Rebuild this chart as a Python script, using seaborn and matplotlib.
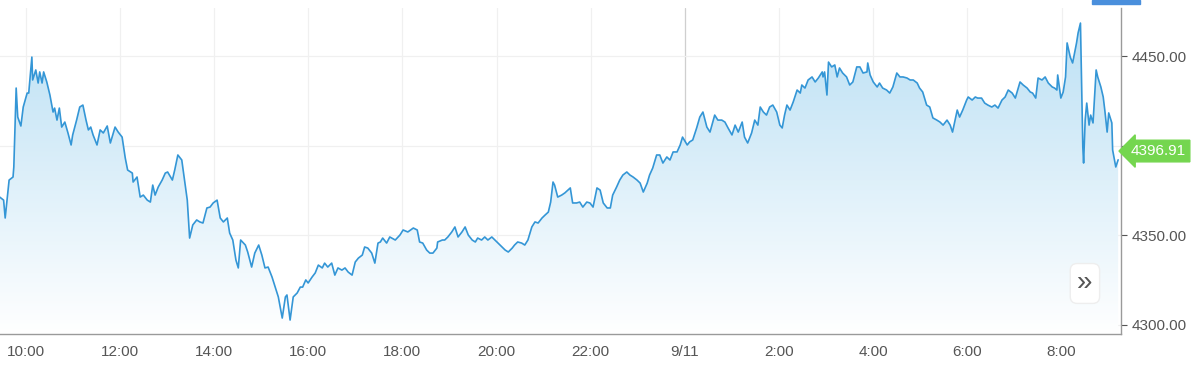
import numpy as np
import pandas as pd
import seaborn as sns
import matplotlib.pyplot as plt
import matplotlib.dates as mdates
from matplotlib.colors import LinearSegmentedColormap
from matplotlib.patches import Rectangle

# minutes after 9/10 00:00 and price
minutes = [
    567, 572, 574, 576, 579, 584, 585, 588, 590, 594, 597, 602, 604, 608, 609, 613, 616, 618, 621, 623,
    627, 631, 635, 637, 640, 643, 646, 650, 654, 658, 660, 665, 669, 673, 677, 680, 683, 686, 691, 695,
    699, 704, 708, 714, 718, 723, 727, 730, 736, 737, 742, 746, 750, 755, 759, 762, 765, 769, 774, 778,
    781, 787, 790, 794, 799, 803, 806, 809, 813, 818, 822, 826, 831, 835, 839, 844, 848, 852, 857, 860,
    864, 868, 871, 874, 880, 883, 888, 892, 897, 901, 905, 909, 914, 918, 922, 927, 931, 933, 937, 941,
    946, 950, 953, 957, 960, 965, 969, 973, 978, 981, 985, 990, 994, 998, 1003, 1007, 1011, 1016, 1020, 1024,
    1029, 1032, 1036, 1041, 1045, 1049, 1052, 1055, 1060, 1064, 1071, 1077, 1081, 1087, 1094, 1099, 1102, 1106, 1111, 1115,
    1119, 1124, 1125, 1131, 1134, 1138, 1143, 1147, 1151, 1156, 1160, 1164, 1169, 1173, 1176, 1181, 1185, 1189, 1194, 1198,
    1202, 1207, 1211, 1215, 1220, 1223, 1227, 1232, 1236, 1240, 1245, 1249, 1253, 1258, 1262, 1266, 1269, 1272, 1274, 1278,
    1283, 1287, 1291, 1294, 1297, 1302, 1306, 1310, 1315, 1319, 1323, 1328, 1332, 1336, 1341, 1345, 1348, 1353, 1357, 1361,
    1366, 1370, 1374, 1379, 1383, 1387, 1392, 1395, 1399, 1404, 1408, 1412, 1417, 1421, 1425, 1430, 1434, 1437, 1443, 1446,
    1450, 1455, 1459, 1463, 1468, 1472, 1478, 1482, 1487, 1491, 1495, 1500, 1504, 1508, 1513, 1516, 1520, 1525, 1529, 1533,
    1536, 1540, 1544, 1548, 1552, 1557, 1561, 1564, 1567, 1570, 1574, 1578, 1583, 1587, 1589, 1593, 1597, 1602, 1606, 1610,
    1615, 1616, 1618, 1621, 1623, 1627, 1631, 1634, 1637, 1641, 1646, 1650, 1654, 1659, 1663, 1667, 1672, 1673, 1676, 1680,
    1685, 1688, 1692, 1697, 1701, 1705, 1710, 1714, 1718, 1723, 1727, 1731, 1736, 1739, 1743, 1748, 1752, 1756, 1761, 1765,
    1769, 1774, 1778, 1781, 1787, 1790, 1794, 1799, 1801, 1806, 1810, 1813, 1818, 1822, 1826, 1831, 1835, 1839, 1844, 1848,
    1852, 1857, 1861, 1867, 1871, 1876, 1880, 1883, 1887, 1890, 1895, 1899, 1903, 1908, 1911, 1914, 1915, 1919, 1922, 1925,
    1927, 1931, 1934, 1939, 1941, 1944, 1946, 1947, 1948, 1950, 1952, 1955, 1957, 1960, 1964, 1966, 1970, 1973, 1975, 1978,
    1980, 1984, 1985, 1989, 1992,
]
prices = [
    4371.2, 4369.5, 4359.5, 4367.9, 4380.7, 4382.4, 4388.0, 4432.1, 4415.9, 4410.9, 4421.5, 4429.3, 4429.3, 4449.4, 4436.6, 4442.2, 4434.9, 4441.1, 4434.9, 4441.1,
    4435.5, 4428.2, 4418.7, 4420.9, 4414.2, 4420.9, 4410.3, 4413.1, 4407.0, 4400.3, 4405.9, 4414.2, 4421.5, 4422.6, 4414.2, 4408.7, 4410.3, 4405.9, 4400.3, 4408.7,
    4407.0, 4410.9, 4401.4, 4410.3, 4407.5, 4404.7, 4393.0, 4386.3, 4384.6, 4379.6, 4382.4, 4371.2, 4372.3, 4369.5, 4368.4, 4377.9, 4372.3, 4376.8, 4380.7, 4384.6,
    4385.2, 4380.7, 4386.3, 4394.7, 4391.9, 4379.0, 4369.5, 4348.3, 4355.6, 4358.4, 4357.3, 4356.7, 4365.1, 4365.6, 4367.9, 4369.5, 4359.5, 4357.3, 4359.5, 4351.1,
    4347.2, 4336.0, 4331.6, 4347.2, 4344.4, 4340.5, 4332.1, 4339.9, 4344.4, 4338.8, 4331.6, 4332.1, 4326.5, 4320.9, 4315.4, 4303.6, 4315.4, 4316.5, 4302.5, 4315.4,
    4317.6, 4320.9, 4320.9, 4324.9, 4323.2, 4326.5, 4328.8, 4333.2, 4331.6, 4334.3, 4332.1, 4334.3, 4327.6, 4331.6, 4330.4, 4331.6, 4329.3, 4327.6, 4334.9, 4337.1,
    4338.8, 4343.3, 4342.7, 4339.9, 4334.3, 4345.5, 4346.1, 4348.3, 4345.5, 4348.9, 4347.2, 4350.0, 4352.8, 4351.7, 4353.9, 4352.8, 4346.1, 4345.5, 4341.6, 4339.9,
    4339.9, 4342.7, 4346.1, 4347.2, 4347.2, 4348.9, 4351.7, 4354.5, 4348.9, 4351.7, 4354.5, 4350.0, 4347.2, 4346.1, 4348.3, 4347.2, 4348.9, 4347.2, 4348.9, 4347.2,
    4345.5, 4343.3, 4341.6, 4340.5, 4342.7, 4344.4, 4346.1, 4345.5, 4344.4, 4347.2, 4354.5, 4357.3, 4356.7, 4359.5, 4361.2, 4362.8, 4368.4, 4379.6, 4377.9, 4371.2,
    4372.3, 4373.5, 4375.1, 4376.3, 4367.9, 4367.9, 4368.4, 4365.6, 4368.4, 4367.9, 4365.6, 4376.3, 4375.1, 4367.9, 4365.1, 4365.1, 4372.3, 4376.8, 4380.7, 4383.5,
    4385.2, 4383.5, 4382.4, 4380.7, 4379.0, 4374.0, 4379.0, 4383.5, 4387.4, 4394.7, 4394.7, 4390.2, 4393.6, 4391.9, 4396.4, 4396.4, 4400.3, 4404.7, 4400.3, 4402.0,
    4403.1, 4409.8, 4415.9, 4418.7, 4410.3, 4407.5, 4417.0, 4414.2, 4414.2, 4413.1, 4409.8, 4405.9, 4411.4, 4407.5, 4413.1, 4404.7, 4401.4, 4407.0, 4414.2, 4411.4,
    4421.5, 4418.7, 4417.0, 4421.5, 4422.6, 4418.7, 4411.4, 4409.8, 4417.0, 4422.6, 4419.8, 4424.3, 4431.0, 4429.3, 4433.8, 4432.1, 4436.6, 4438.3, 4435.5, 4437.7,
    4441.1, 4438.3, 4441.1, 4428.2, 4446.6, 4443.9, 4445.0, 4438.3, 4443.3, 4440.5, 4438.3, 4433.8, 4435.5, 4443.9, 4443.9, 4440.5, 4441.1, 4446.1, 4439.4, 4435.5,
    4432.7, 4434.9, 4432.1, 4431.0, 4429.3, 4432.7, 4440.5, 4438.3, 4438.3, 4437.7, 4436.6, 4436.6, 4434.9, 4432.1, 4429.9, 4422.6, 4421.5, 4415.4, 4414.2, 4413.1,
    4411.4, 4414.2, 4411.4, 4407.5, 4419.8, 4415.9, 4419.8, 4425.4, 4427.1, 4425.4, 4427.1, 4426.5, 4426.5, 4423.7, 4422.6, 4421.5, 4422.6, 4420.9, 4425.4, 4427.1,
    4431.0, 4429.3, 4426.5, 4435.5, 4433.8, 4432.1, 4429.9, 4429.3, 4426.5, 4437.7, 4436.6, 4438.3, 4434.9, 4432.7, 4432.1, 4431.0, 4439.4, 4426.5, 4429.9, 4438.3,
    4457.3, 4449.4, 4446.1, 4457.3, 4462.9, 4468.4, 4423.7, 4399.2, 4390.2, 4414.2, 4423.7, 4411.4, 4417.0, 4412.6, 4442.2, 4438.3, 4432.7, 4427.1, 4419.8, 4407.5,
    4418.2, 4412.6, 4397.5, 4388.0, 4392.0,
]
last_price = 4396.91

y_ticks = [4300, 4350, 4400, 4450]
y_tick_labels = ["4300.00", "4350.00", "", "4450.00"]
x_tick_hours = [10, 12, 14, 16, 18, 20, 22, 24, 26, 28, 30, 32]
x_tick_labels = ["10:00", "12:00", "14:00", "16:00", "18:00", "20:00", "22:00",
                 "9/11", "2:00", "4:00", "6:00", "8:00"]

base = pd.Timestamp("2023-09-10 00:00")
df = pd.DataFrame({"time": base + pd.to_timedelta(minutes, unit="m"), "price": prices})

sns.set_style("white")
plt.rcParams["font.family"] = ["Liberation Sans", "DejaVu Sans"]

fig = plt.figure(figsize=(12, 3.7), dpi=100)
ax = fig.add_axes([0.0, 0.0973, 0.934, 0.881])

x0 = base + pd.Timedelta(minutes=567.4)
x1 = base + pd.Timedelta(minutes=1995.4)
y0, y1 = 4294.7, 4476.8

# gradient fill under the line
fill = ax.fill_between(df["time"], df["price"], y0, facecolor="none", edgecolor="none")
cmap = LinearSegmentedColormap.from_list("fill", ["#ffffff", "#b9dff4"])
grad = np.linspace(0, 1, 256).reshape(-1, 1)
img = ax.imshow(grad, cmap=cmap, aspect="auto", origin="lower",
                extent=[mdates.date2num(x0), mdates.date2num(x1), y0, y1], zorder=1)
img.set_clip_path(fill.get_paths()[0], transform=ax.transData)

sns.lineplot(data=df, x="time", y="price", ax=ax, color="#3496d6",
             linewidth=1.2, zorder=3)

ax.set_xlim(x0, x1)
ax.set_ylim(y0, y1)

# grid
for h in x_tick_hours:
    t = base + pd.Timedelta(hours=h)
    ax.axvline(t, color="#cfcfcf" if h == 24 else "#f0f0f0", lw=0.9, zorder=0)
for v in y_ticks:
    ax.axhline(v, color="#f0f0f0", lw=0.9, zorder=0)

ax.set_xticks([base + pd.Timedelta(hours=h) for h in x_tick_hours])
ax.set_xticklabels(x_tick_labels)
ax.set_yticks(y_ticks)
ax.set_yticklabels(y_tick_labels)
ax.yaxis.tick_right()
ax.set_xlabel("")
ax.set_ylabel("")
ax.tick_params(axis="x", colors="#555555", labelsize=11, length=4, width=0.8,
               direction="out", pad=4)
ax.tick_params(axis="y", colors="#555555", labelsize=11, length=4, width=0.8,
               direction="out", pad=4)
for side in ["left", "top"]:
    ax.spines[side].set_visible(False)
for side in ["right", "bottom"]:
    ax.spines[side].set_color("#9a9a9a")
    ax.spines[side].set_linewidth(1.0)

# last price tag
ax.text(1.009, last_price, f"{last_price:.2f}", transform=ax.get_yaxis_transform(),
        ha="left", va="center", fontsize=11, color="white", zorder=5, clip_on=False,
        bbox=dict(boxstyle="larrow,pad=0.25", facecolor="#74d64f", edgecolor="#74d64f"))

# scroll button
ax.text(0.968, 0.155, "»", transform=ax.transAxes, ha="center", va="center",
        fontsize=20, color="#555555", zorder=5,
        bbox=dict(boxstyle="round,pad=0.25", facecolor="white", edgecolor="#eeeeee"))

# top scroll bar
fig.patches.append(Rectangle((1092 / 1200, 1 - 4 / 370), 48 / 1200, 4 / 370,
                             transform=fig.transFigure, color="#4a8fdc", zorder=5))

fig.savefig("out.png", dpi=100)
